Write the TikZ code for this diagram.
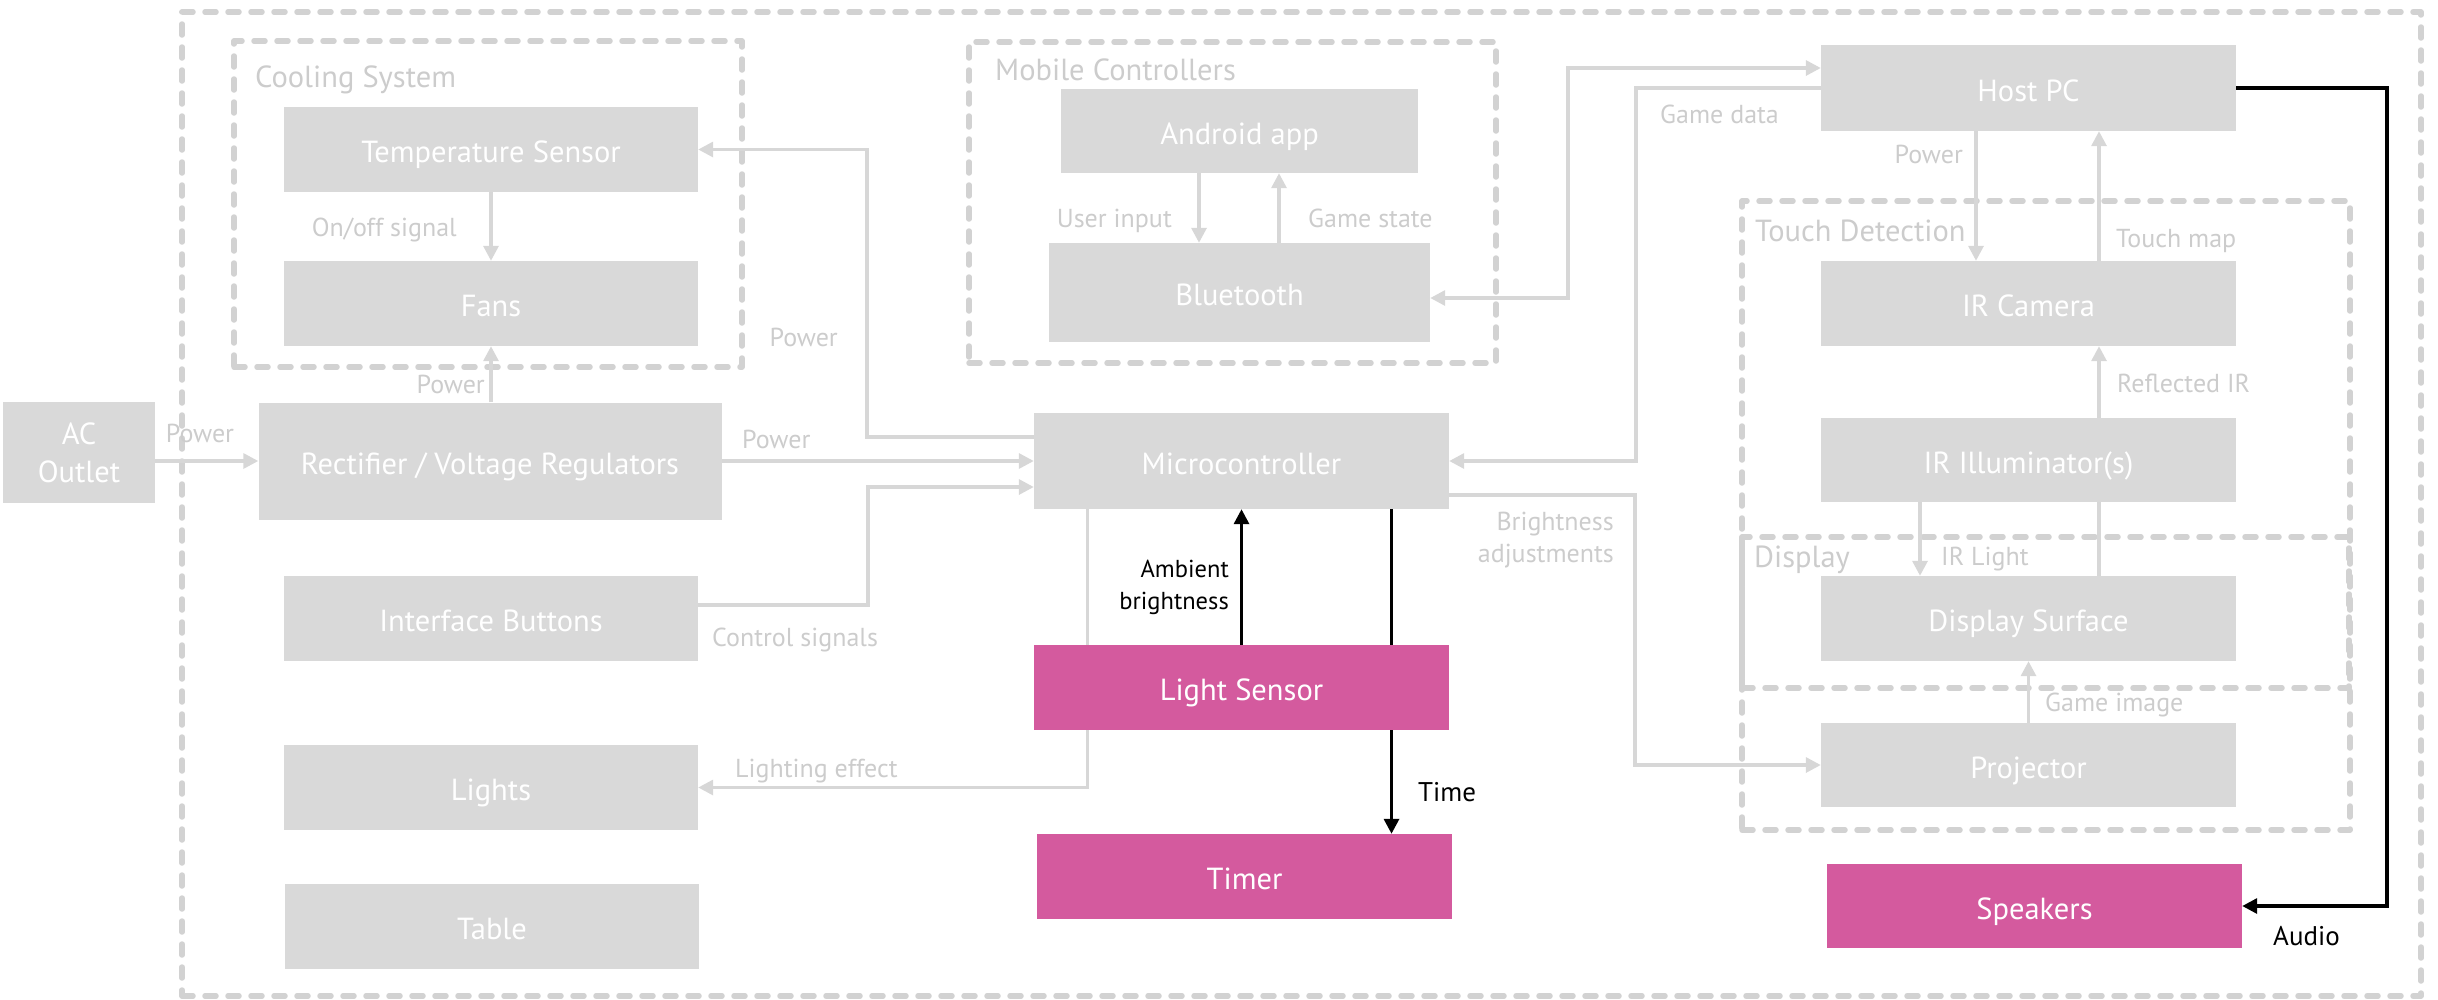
\documentclass[tikz,border=0pt]{standalone}
\usepackage{fontspec}
\setmainfont{PT Sans}
\usetikzlibrary{arrows.meta,calc}

\definecolor{boxgray}{RGB}{217,217,217}
\definecolor{linegray}{RGB}{215,215,215}
\definecolor{dashgray}{RGB}{210,210,210}
\definecolor{labelgray}{RGB}{204,204,204}
\definecolor{accentpink}{RGB}{212,90,158}

\newcommand\blkfnt{\fontsize{30.5}{38}\selectfont}
\newcommand\edgfnt{\fontsize{26}{32}\selectfont}
\newcommand\keyfnt{\fontsize{27}{32}\selectfont}

\pgfdeclarelayer{groups}
\pgfdeclarelayer{links}
\pgfsetlayers{groups,links,main}

\begin{document}
\begin{tikzpicture}[x=1pt,y=-1pt,
  block/.style={fill=boxgray,text=white,inner sep=0pt,font=\blkfnt,text height=29pt,text depth=3pt},
  accent/.style={block,fill=accentpink},
  grp/.style={draw=dashgray,line width=5.5pt,dash pattern=on 11pt off 12pt,line cap=round,line join=round,inner sep=0pt},
  flow/.style={draw=linegray,line width=3.3pt,-{Triangle[length=15pt,width=15pt]}},
  keyflow/.style={draw=black,line width=3.3pt,-{Triangle[length=15pt,width=15pt]}},
  lbl/.style={text=labelgray,font=\edgfnt,inner sep=0pt},
  keylbl/.style={text=black,font=\keyfnt,inner sep=0pt},
  grplbl/.style={text=labelgray,font=\blkfnt,inner sep=0pt}]

\useasboundingbox (0,0) rectangle (2438,999);

% ---------- group frames ----------
\begin{pgfonlayer}{groups}
\node[grp,minimum width=2239pt,minimum height=984pt] (system) at (1301.5,504) {};
\node[grp,minimum width=508pt,minimum height=326pt] (cooling) at (488,204) {};
\node[grp,minimum width=527pt,minimum height=321pt] (mobile) at (1232.5,202.5) {};
\node[grp,minimum width=608pt,minimum height=629pt] (touch) at (2046,515.5) {};
\node[grp,minimum width=607pt,minimum height=151pt] (display) at (2045.5,612.5) {};
\end{pgfonlayer}

% ---------- blocks ----------
\node[fill=boxgray,text=white,inner sep=0pt,font=\blkfnt,align=center,minimum width=152pt,minimum height=101pt] (ac) at (79,452.5) {AC\\Outlet};
\node[block,minimum width=414pt,minimum height=85pt] (temp) at (491,149.5) {Temperature Sensor};
\node[block,minimum width=414pt,minimum height=85pt] (fans) at (491,303.5) {Fans};
\node[block,minimum width=463pt,minimum height=117pt] (rect) at (490,461) {Rectifier / Voltage Regulators};
\node[block,minimum width=414pt,minimum height=85pt] (buttons) at (491,618) {Interface Buttons};
\node[block,minimum width=414pt,minimum height=85pt] (lights) at (491,787.5) {Lights};
\node[block,minimum width=414pt,minimum height=85pt] (table) at (492,926.5) {Table};

\node[block,minimum width=357pt,minimum height=84pt] (android) at (1239.5,131) {Android app};
\node[block,minimum width=381pt,minimum height=99pt] (bt) at (1239.5,292.5) {Bluetooth};
\node[block,minimum width=415pt,minimum height=96pt] (micro) at (1241.5,461) {Microcontroller};
\node[accent,minimum width=415pt,minimum height=85pt] (lsensor) at (1241.5,687.5) {Light Sensor};
\node[accent,minimum width=415pt,minimum height=85pt] (timer) at (1244.5,876.5) {Timer};

\node[block,minimum width=415pt,minimum height=86pt] (host) at (2028.5,88) {Host PC};
\node[block,minimum width=415pt,minimum height=85pt] (ircam) at (2028.5,303.5) {IR Camera};
\node[block,minimum width=415pt,minimum height=84pt] (irill) at (2028.5,460) {IR Illuminator(s)};
\node[block,minimum width=415pt,minimum height=85pt] (dsurf) at (2028.5,618.5) {Display Surface};
\node[block,minimum width=415pt,minimum height=84pt] (proj) at (2028.5,765) {Projector};
\node[accent,minimum width=415pt,minimum height=84pt] (speakers) at (2034.5,906) {Speakers};

% ---------- bend points ----------
\coordinate (pwrbend) at (867,437);
\coordinate (ctlbend) at (868,605);
\coordinate (btbend) at (1568,68);
\coordinate (gdbend) at (1636,88);
\coordinate (brbend) at (1635,495);
\coordinate (audbend) at (2387,88);

% ---------- connectors ----------
\begin{pgfonlayer}{links}
\draw[flow] (ac.east |- rect.west) -- (rect.west);
\draw[flow] (rect.north -| fans.south) -- (fans.south);
\draw[flow] (temp.south) -- (fans.north);
\draw[flow] (micro.west |- pwrbend) -- (pwrbend) |- (temp.east);
\draw[flow] (rect.east) -- (micro.west);
\draw[flow] (buttons.east |- ctlbend) -- (ctlbend) |- ([yshift=-26pt]micro.west);
\draw[flow] ([xshift=54pt]micro.south west) |- (lights.east);
\draw[flow,{Triangle[length=15pt,width=15pt]}-{Triangle[length=15pt,width=15pt]}]
  ([yshift=-5.5pt]bt.east) -| (btbend) -- (btbend -| host.west);
\draw[flow] (host.west) -- (gdbend) |- (micro.east);
\draw[flow] (micro.east |- brbend) -- (brbend) |- (proj.west);
\draw[flow] ([xshift=-52.5pt]host.south) -- ([xshift=-52.5pt]ircam.north);
\draw[flow] ([xshift=70.5pt]ircam.north) -- ([xshift=70.5pt]host.south);
\draw[flow] ([xshift=70.5pt]dsurf.north) -- ([xshift=70.5pt]ircam.south);
\draw[flow] ([xshift=-108.5pt]irill.south) -- ([xshift=-108.5pt]dsurf.north);
\draw[flow] (proj.north) -- (dsurf.south);
\draw[flow] ([xshift=39.5pt]bt.north) -- ([xshift=39.5pt]android.south);
\draw[flow] ([xshift=-40.5pt]android.south) -- ([xshift=-40.5pt]bt.north);
\draw[keyflow] (lsensor.north) -- (micro.south);
\draw[keyflow] ([xshift=150pt]micro.south) -- ([xshift=150pt]micro.south |- timer.north);
\draw[keyflow] (host.east) -- (audbend) |- (speakers.east);
\end{pgfonlayer}

% ---------- labels ----------
\node[grplbl,anchor=base west] (t-cool) at (255,87) {Cooling System};
\node[grplbl,anchor=base west] (t-mob) at (995,80) {Mobile Controllers};
\node[grplbl,anchor=base west] (t-touch) at (1755,241) {Touch Detection};
\node[grplbl,anchor=base west] (t-disp) at (1754,567) {Display};

\node[lbl,anchor=base] (t-acpow) at (200,442) {Power};
\node[lbl,anchor=base east] (t-onoff) at (457,236) {On/off signal};
\node[lbl,anchor=base east] (t-fanpow) at (485,393) {Power};
\node[lbl,anchor=base east] (t-tspow) at (838,346) {Power};
\node[lbl,anchor=base west] (t-mcpow) at (742,448) {Power};
\node[lbl,anchor=base west] (t-ctl) at (712,646) {Control signals};
\node[lbl,anchor=base west] (t-lit) at (735,777) {Lighting effect};
\node[lbl,anchor=base east] (t-uin) at (1172,227) {User input};
\node[lbl,anchor=base west] (t-gst) at (1308,227) {Game state};
\node[lbl,anchor=base west] (t-gd) at (1660,123) {Game data};
\node[lbl,anchor=base east] (t-hpow) at (1963,163) {Power};
\node[lbl,anchor=base west] (t-tmap) at (2116,247) {Touch map};
\node[lbl,anchor=base west] (t-refl) at (2117,392) {Reflected IR};
\node[lbl,anchor=base west] (t-irl) at (1941,565) {IR Light};
\node[lbl,anchor=base west] (t-gimg) at (2045,711) {Game image};
\node[lbl,anchor=base east] (t-bri1) at (1614,530.5) {Brightness};
\node[lbl,anchor=base east] (t-bri2) at (1614,562) {adjustments};

\node[keylbl,font=\fontsize{24.5}{32}\selectfont,anchor=base east] (t-amb1) at (1229,577) {Ambient};
\node[keylbl,font=\fontsize{24.5}{32}\selectfont,anchor=base east] (t-amb2) at (1229,609) {brightness};
\node[keylbl,anchor=base west] (t-time) at (1418,801) {Time};
\node[keylbl,anchor=base west] (t-audio) at (2273,945.5) {Audio};

\end{tikzpicture}
\end{document}
